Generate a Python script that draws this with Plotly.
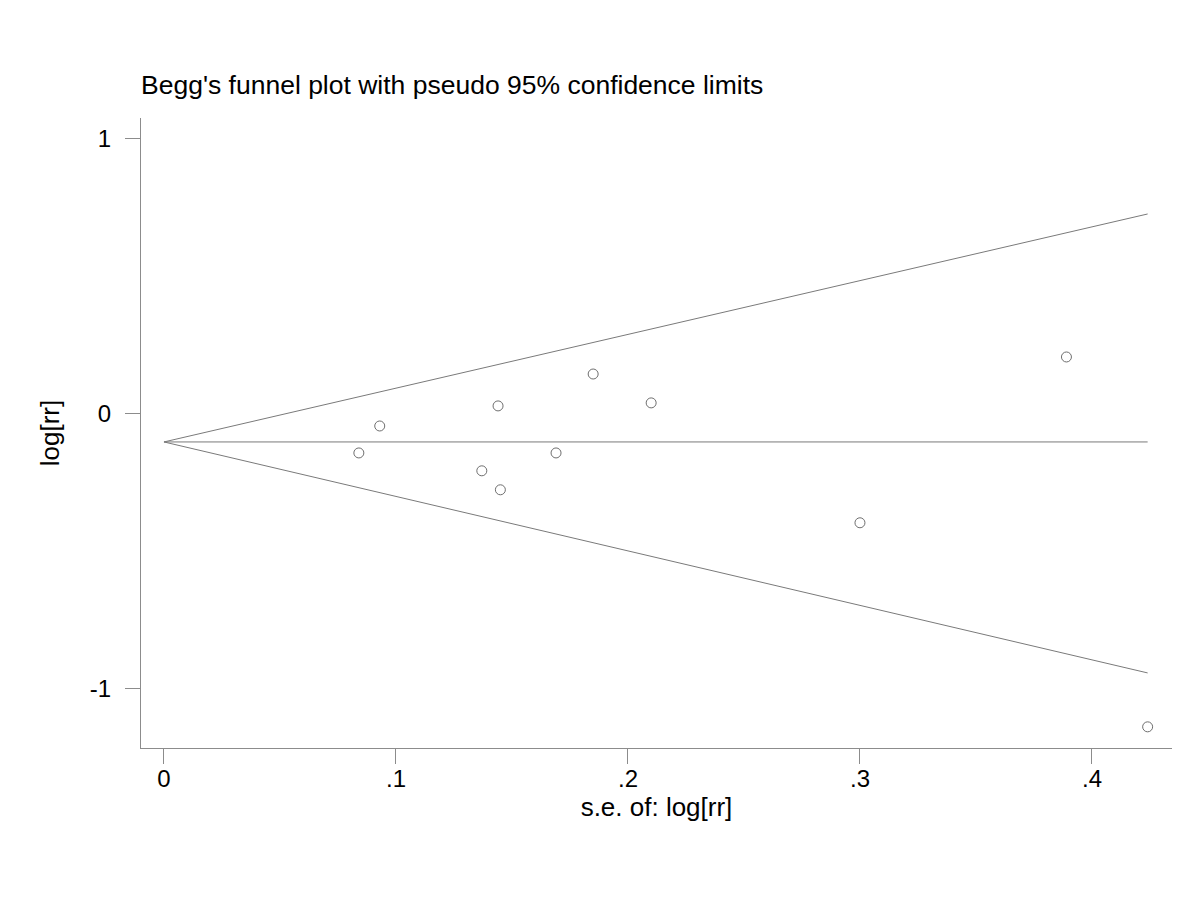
import plotly.graph_objects as go

# study standard errors and log risk ratios
se = [0.084, 0.093, 0.137, 0.144, 0.145, 0.169, 0.185, 0.210, 0.300, 0.389, 0.424]
logrr = [-0.142, -0.044, -0.207, 0.029, -0.276, -0.142, 0.145, 0.040, -0.396, 0.207, -1.138]

# pseudo 95% confidence limits (end points) and pooled estimate
lim_se = [0, 0.424]
upper = [-0.102, 0.727]
lower = [-0.102, -0.942]
center = [-0.102, -0.102]

line_col = "#7a7a7a"
axis_col = "#8c8c8c"

fig = go.Figure()
fig.add_trace(go.Scatter(x=lim_se, y=upper, mode="lines", line=dict(color=line_col, width=1)))
fig.add_trace(go.Scatter(x=lim_se, y=lower, mode="lines", line=dict(color=line_col, width=1)))
fig.add_trace(go.Scatter(x=lim_se, y=center, mode="lines", line=dict(color=line_col, width=1)))
fig.add_trace(go.Scatter(x=se, y=logrr, mode="markers",
                         marker=dict(symbol="circle-open", size=10, color="#6e6e6e",
                                     line=dict(width=1))))

fig.update_layout(
    width=1200, height=900,
    paper_bgcolor="white", plot_bgcolor="white",
    showlegend=False,
    font=dict(family="Liberation Sans, Arial, sans-serif", color="black"),
    margin=dict(l=133, r=36, t=110, b=160),
    title=dict(text="Begg's funnel plot with pseudo 95% confidence limits",
               x=133 / 1200, xanchor="left", y=1 - 77 / 900, yanchor="middle",
               font=dict(size=26.5)),
)
fig.update_xaxes(
    range=[-0.0099, 0.4345], tickvals=[0, 0.1, 0.2, 0.3, 0.4],
    ticktext=["0", ".1", ".2", ".3", ".4"],
    showgrid=False, zeroline=False, showline=True, linecolor=axis_col, linewidth=1,
    ticks="outside", ticklen=15, tickcolor=axis_col, tickfont=dict(size=24),
    ticklabelstandoff=-6,
    title=dict(text="s.e. of: log[rr]", font=dict(size=26), standoff=0),
)
fig.update_yaxes(
    range=[-1.215, 1.076], tickvals=[-1, 0, 1], ticktext=["-1", "0", "1"],
    showgrid=False, zeroline=False, showline=True, linecolor=axis_col, linewidth=1,
    ticks="outside", ticklen=15, tickcolor=axis_col, tickfont=dict(size=24),
    ticklabelstandoff=9,
    title=dict(text="log[rr]", font=dict(size=26), standoff=22),
)

fig.write_html("out.html")
